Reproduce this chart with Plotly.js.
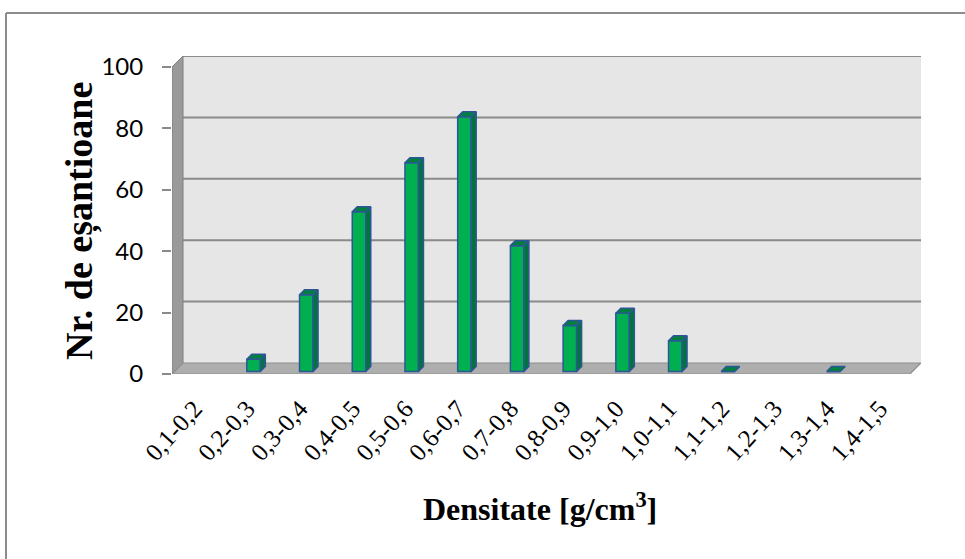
<!DOCTYPE html>
<html>
<head>
<meta charset="utf-8">
<script src="https://cdn.plot.ly/plotly-3.0.1.min.js"></script>
<style>
  html, body { margin: 0; padding: 0; background: #ffffff; }
  #chart { width: 965px; height: 559px; }
</style>
</head>
<body>
<div id="chart"></div>
<script>
// Density classes and sample counts (null = empty class, no column drawn)
const densityClasses = ['0,1-0,2', '0,2-0,3', '0,3-0,4', '0,4-0,5', '0,5-0,6', '0,6-0,7', '0,7-0,8',
                        '0,8-0,9', '0,9-1,0', '1,0-1,1', '1,1-1,2', '1,2-1,3', '1,3-1,4', '1,4-1,5'];
const sampleCounts = [null, 4, 25, 52, 68, 83, 41, 15, 19, 10, 0, null, 0, null];
const yTickValues = [0, 20, 40, 60, 80, 100];

// ---- pseudo-3D geometry (pixels) ----
const W = 965, H = 559;
const PL = 172, PR = 921, PT = 56, PB = 374;      // plot area
const pxPerCat = (910 - PL) / densityClasses.length;
const pxPerUnit = (PB - 67) / 100;
const WALL = 11;        // depth of the chart box
const BAR_IN = 2.5;     // how far the column front sits behind the front plane
const BAR_DEPTH = 5;    // depth of each column
const BAR_W = 13.5;     // width of column front face

const ux = px => px / pxPerCat;
const uy = px => px / pxPerUnit;
const xMin = -0.5, xMax = -0.5 + (PR - PL) / pxPerCat;
const yMax = (PB - PT) / pxPerUnit;
const catLo = -0.5, catHi = densityClasses.length - 0.5;
const idx = densityClasses.map((_, i) => i);

// paper coordinates from pixels (for the outer frame and titles)
const pX = px => (px - PL) / (PR - PL);
const pY = py => (PB - py) / (PB - PT);

// ---- chart box: back wall, grid, side wall, floor ----
const shapes = [];
const dX = ux(WALL), dY = uy(WALL);
shapes.push({type: 'rect', layer: 'below', xref: 'x', yref: 'y',
  x0: catLo + dX, x1: catHi + dX, y0: dY, y1: 100 + dY,
  fillcolor: '#E6E6E6', line: {width: 0}});
yTickValues.filter(v => v > 0).forEach(v => {
  shapes.push({type: 'line', layer: 'below', xref: 'x', yref: 'y',
    x0: catLo + dX, x1: catHi + dX, y0: v + dY, y1: v + dY,
    line: {color: '#8A8A8A', width: 2}});
});
shapes.push({type: 'path', layer: 'below', xref: 'x', yref: 'y',
  path: `M${catLo},0 L${catLo},100 L${catLo + dX},${100 + dY} L${catLo + dX},${dY} Z`,
  fillcolor: '#9A9A9A', line: {color: '#7F7F7F', width: 1}});
shapes.push({type: 'path', layer: 'below', xref: 'x', yref: 'y',
  path: `M${catLo},0 L${catHi},0 L${catHi + dX},${dY} L${catLo + dX},${dY} Z`,
  fillcolor: '#AEAEAE', line: {color: '#8E8E8E', width: 1.2}});

// outer frame (top and left edges)
shapes.push({type: 'line', xref: 'paper', yref: 'paper',
  x0: pX(6), x1: pX(W + 5), y0: pY(13), y1: pY(13), line: {color: '#8C8C8C', width: 2}});
shapes.push({type: 'line', xref: 'paper', yref: 'paper',
  x0: pX(6), x1: pX(6), y0: pY(13), y1: pY(H + 5), line: {color: '#8C8C8C', width: 2}});

// ---- column side and top faces, built from the counts ----
const bw = ux(BAR_W), bIn = ux(BAR_IN), bInY = uy(BAR_IN);
const bdX = ux(BAR_DEPTH), bdY = uy(BAR_DEPTH);
const sideX = [], sideY = [], topX = [], topY = [];
sampleCounts.forEach((v, i) => {
  if (v === null) return;
  const xl = i - bw / 2 + bIn, xr = i + bw / 2 + bIn;
  const yb = bInY, yt = bInY + v;
  if (v > 0) {
    sideX.push(xr, xr + bdX, xr + bdX, xr, xr, null);
    sideY.push(yb, yb + bdY, yt + bdY, yt, yb, null);
  }
  topX.push(xl, xr, xr + bdX, xl + bdX, xl, null);
  topY.push(yt, yt, yt + bdY, yt + bdY, yt, null);
});

const outline = '#2F5597';
const data = [
  {
    type: 'bar', x: idx, y: sampleCounts,
    base: bInY, width: bw, offset: -bw / 2 + bIn,
    marker: {color: '#00B050', line: {color: outline, width: 1.5}},
    hoverinfo: 'x+y', showlegend: false
  },
  {
    type: 'scatter', mode: 'lines', x: sideX, y: sideY, fill: 'toself',
    fillcolor: '#00753B', line: {color: outline, width: 1.5},
    hoverinfo: 'skip', showlegend: false
  },
  {
    type: 'scatter', mode: 'lines', x: topX, y: topY, fill: 'toself',
    fillcolor: '#00803F', line: {color: outline, width: 1.5},
    hoverinfo: 'skip', showlegend: false
  }
];

const layout = {
  width: W, height: H,
  margin: {l: PL, r: W - PR, t: PT, b: H - PB, pad: 0},
  paper_bgcolor: '#FFFFFF', plot_bgcolor: 'rgba(0,0,0,0)',
  showlegend: false,
  xaxis: {
    range: [xMin, xMax], tickmode: 'array', tickvals: idx, ticktext: densityClasses,
    tickangle: -48, ticks: '', showgrid: false, zeroline: false, showline: false,
    ticklabelstandoff: 14, ticklabelshift: -4,
    tickfont: {family: 'Liberation Serif, Times New Roman, serif', size: 25, color: '#000000'},
    fixedrange: true
  },
  yaxis: {
    range: [0, yMax], tickmode: 'array', tickvals: yTickValues,
    ticks: 'outside', ticklen: 9, tickwidth: 2, tickcolor: '#8A8A8A',
    showgrid: false, zeroline: false, showline: false,
    ticklabelstandoff: 14,
    tickfont: {family: 'Lato, Liberation Sans, sans-serif', size: 24, color: '#000000'},
    fixedrange: true
  },
  shapes: shapes,
  annotations: [
    {
      xref: 'paper', yref: 'paper', x: pX(540), y: pY(507), xanchor: 'center', yanchor: 'middle',
      text: 'Densitate [g/cm<sup>3</sup>]', showarrow: false,
      font: {family: 'Liberation Serif, Times New Roman, serif', size: 32, color: '#000000', weight: 'bold'}
    },
    {
      xref: 'paper', yref: 'paper', x: pX(80), y: pY(221), xanchor: 'center', yanchor: 'middle',
      text: 'Nr. de eșantioane', textangle: -90, showarrow: false,
      font: {family: 'Liberation Serif, Times New Roman, serif', size: 38, color: '#000000', weight: 'bold'}
    }
  ]
};

Plotly.newPlot('chart', data, layout, {displayModeBar: false, staticPlot: true});
</script>
</body>
</html>
